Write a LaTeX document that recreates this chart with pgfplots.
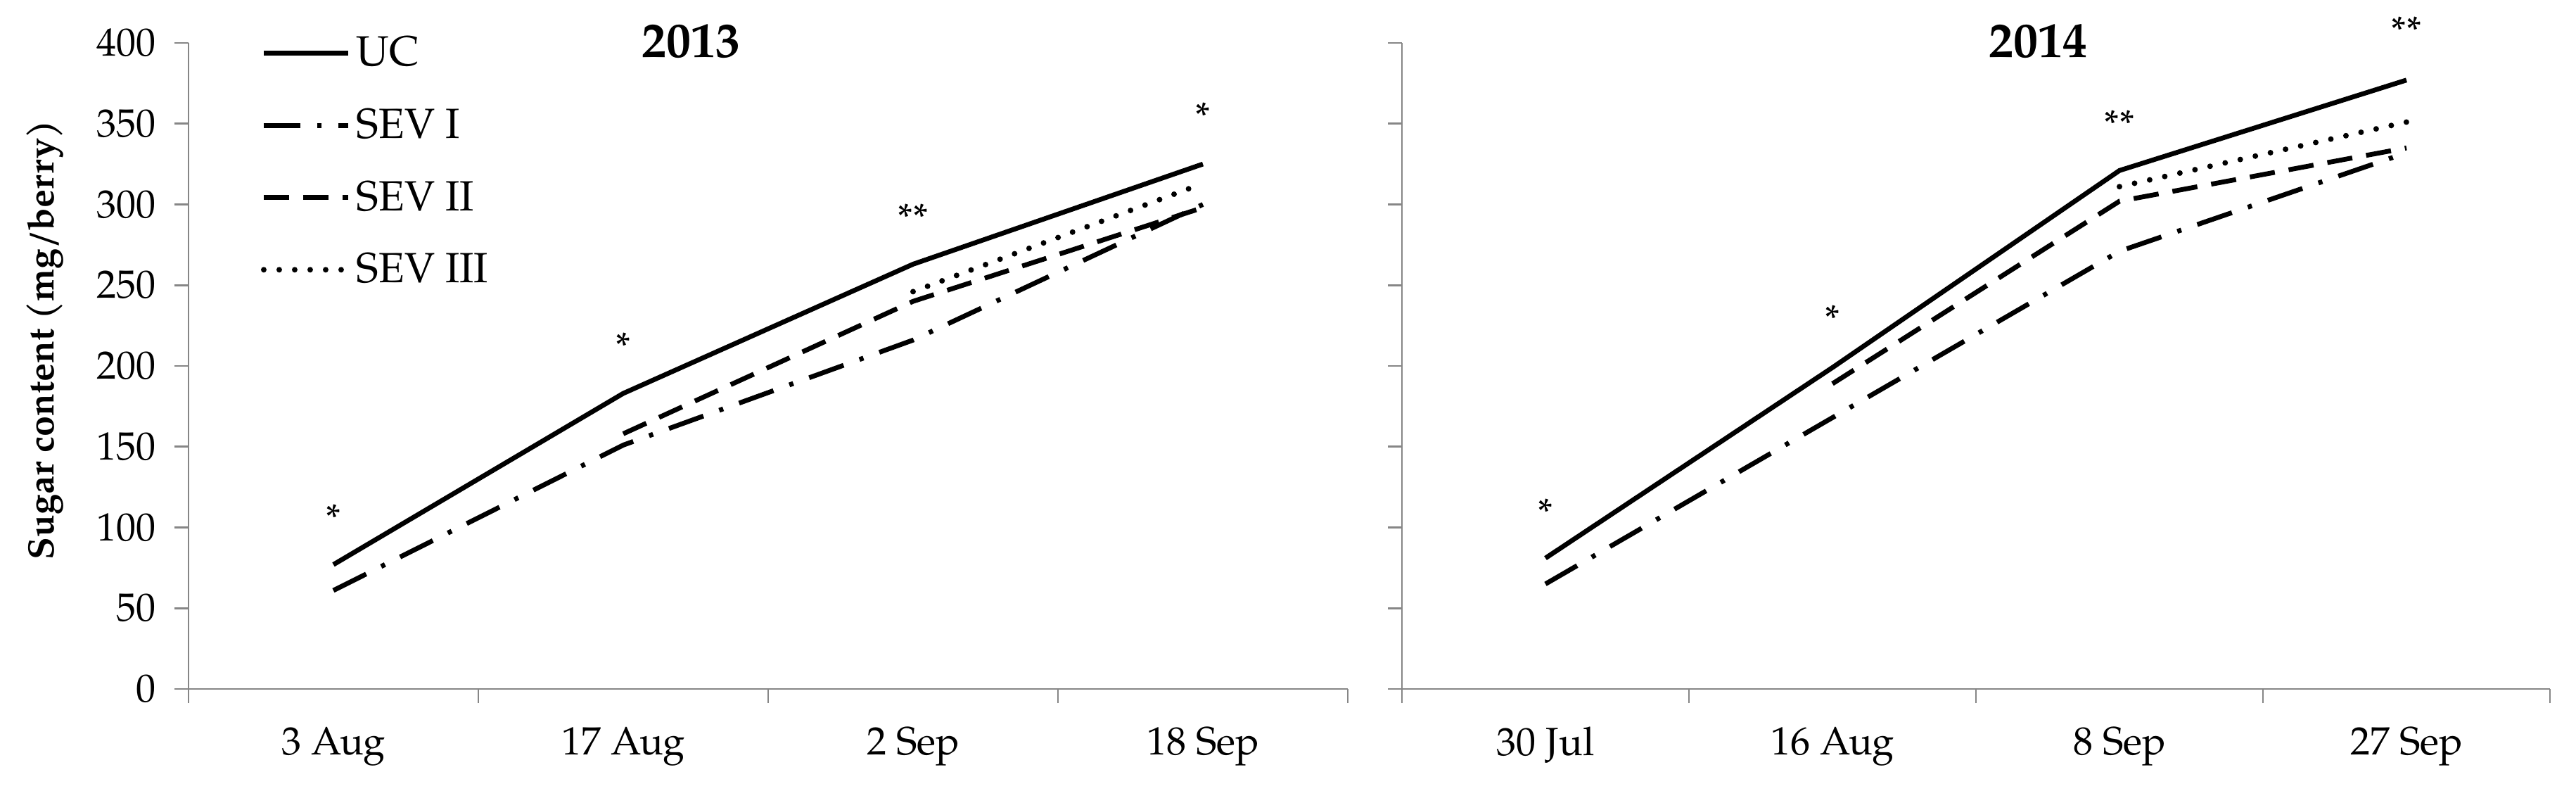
\documentclass[border=0pt]{standalone}
\usepackage{fontspec}
\setmainfont{TeX Gyre Pagella}
\usepackage{pgfplots}
\pgfplotsset{compat=1.18}
\definecolor{axgray}{RGB}{134,134,134}
\tikzset{
  ucst/.style={black, line width=1.7pt},
  sevI/.style={black, line width=1.7pt, dash pattern=on 13pt off 6pt on 1.5pt off 6pt},
  sevII/.style={black, line width=1.7pt, dash pattern=on 9pt off 5pt},
  sevIII/.style={black, line width=2pt, line cap=round, dash pattern=on 0pt off 5.5pt},
  stk/.style={font=\fontsize{13.5}{15}\selectfont, inner sep=0pt},
}
\pgfplotsset{
  panel/.style={
    scale only axis, height=229.5pt,
    xmin=-0.5, xmax=3.5, ymin=0, ymax=400,
    axis x line*=bottom, axis y line*=left,
    axis line style={axgray, line width=0.7pt, -},
    ytick={0,50,...,400},
    xtick={0,1,2,3},
    minor xtick={-0.5,0.5,1.5,2.5,3.5},
    tick align=outside,
    major tick length=5pt, minor tick length=5pt,
    tick style={axgray, line width=0.7pt},
    major x tick style={draw=none},
    tick label style={font=\fontsize{14}{16}\selectfont},
    /pgf/number format/assume math mode=true,
    yticklabel style={xshift=-3pt},
    xticklabel style={yshift=-5pt},
    clip=false,
  },
}
\begin{document}
\begin{tikzpicture}
\path[use as bounding box] (-67pt,-36.25pt) rectangle (848.5pt,244.75pt);
% ---------------- 2013 ----------------
\begin{axis}[panel, width=412pt, at={(0pt,0pt)}, anchor=south west,
  xticklabels={3 Aug,17 Aug,2 Sep,18 Sep},
  ylabel={\textbf{Sugar content (mg/berry)}},
  ylabel style={at={(axis description cs:-0.124,0.54)}, anchor=center, font=\fontsize{13}{15}\selectfont},
  legend cell align=left,
  legend image code/.code={\draw[#1] (0pt,0pt) -- (30pt,0pt);},
  legend style={at={(rel axis cs:0.062,1.02)}, anchor=north west, draw=none, fill=none,
    inner sep=0pt, font=\fontsize{15}{17}\selectfont, row sep=9.5pt},
]
\addplot[ucst] coordinates {(0,77) (1,183) (2,263) (3,325)};
\addlegendentry{UC}
\addplot[sevI] coordinates {(0,61) (1,151) (2,216) (3,300)};
\addlegendentry{SEV I}
\addplot[sevII] coordinates {(1,158) (2,240) (3,298)};
\addlegendentry{SEV II}
\addplot[sevIII] coordinates {(2,246) (3,313)};
\addlegendentry{SEV III}
\node[stk] at (axis cs:0,106) {*};
\node[stk] at (axis cs:1,212.5) {*};
\node[stk] at (axis cs:2,292) {**};
\node[stk] at (axis cs:3,355) {*};
\node[font=\fontsize{17.5}{20}\selectfont\bfseries] at (rel axis cs:0.4336,1.003) {2013};
\end{axis}
% ---------------- 2014 ----------------
\begin{axis}[panel, width=408pt, at={(431.25pt,0pt)}, anchor=south west,
  xticklabels={30 Jul,16 Aug,8 Sep,27 Sep},
  yticklabels={},
]
\addplot[ucst] coordinates {(0,81) (1,199) (2,321) (3,377)};
\addplot[sevI] coordinates {(0,65) (1,168) (2,271) (3,332)};
\addplot[sevII] coordinates {(1,189) (2,302) (3,335)};
\addplot[sevIII] coordinates {(2,311) (3,351)};
\node[stk] at (axis cs:0,109.5) {*};
\node[stk] at (axis cs:1,229.5) {*};
\node[stk] at (axis cs:2,350) {**};
\node[stk] at (axis cs:3,408) {**};
\node[font=\fontsize{17.5}{20}\selectfont\bfseries] at (rel axis cs:0.5545,1.003) {2014};
\end{axis}
\end{tikzpicture}
\end{document}
